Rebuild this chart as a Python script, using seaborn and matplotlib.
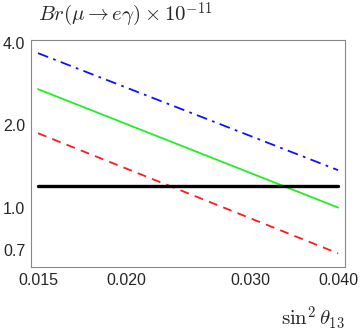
import matplotlib
matplotlib.use('Agg')
import matplotlib.pyplot as plt
import seaborn as sns
import pandas as pd

# Values (log-log straight lines)
sin2_theta13 = [0.015, 0.040]
br_dashdot = [3.67, 1.37]
br_solid = [2.71, 1.00]
br_dashed = [1.87, 0.68]
br_bound = [1.20, 1.20]

x_ticks = [0.015, 0.020, 0.030, 0.040]
x_labels = ['0.015', '0.020', '0.030', '0.040']
y_ticks = [0.7, 1.0, 2.0, 4.0]
y_labels = ['0.7', '1.0', '2.0', '4.0']

sns.set_style('white')
plt.rcParams['mathtext.fontset'] = 'cm'
plt.rcParams['font.family'] = ['Liberation Sans', 'DejaVu Sans']

fig, ax = plt.subplots(figsize=(3.6, 3.33), dpi=100)
fig.subplots_adjust(left=0.086, right=0.958, top=0.88, bottom=0.198)

df = pd.DataFrame({'x': sin2_theta13, 'blue': br_dashdot, 'green': br_solid,
                   'red': br_dashed, 'black': br_bound})

sns.lineplot(data=df, x='x', y='blue', ax=ax, color='#1010ff', lw=1.3,
             linestyle=(0, (6, 3, 1.5, 3)))
sns.lineplot(data=df, x='x', y='green', ax=ax, color='#22ee22', lw=1.3)
sns.lineplot(data=df, x='x', y='red', ax=ax, color='#ff1a1a', lw=1.3,
             linestyle=(0, (5, 3.5)))
sns.lineplot(data=df, x='x', y='black', ax=ax, color='black', lw=2.4)

ax.set_xscale('log')
ax.set_yscale('log')
ax.set_xlim(0.01466, 0.0409)
ax.set_ylim(0.606, 4.1)
ax.set_xticks(x_ticks)
ax.set_xticklabels(x_labels)
ax.set_yticks(y_ticks)
ax.set_yticklabels(y_labels)
ax.minorticks_off()
ax.tick_params(direction='in', length=2.5, width=0.6, color='#999999',
               labelsize=11.5, pad=4)

for s in ax.spines.values():
    s.set_color('#888888')
    s.set_linewidth(0.8)

ax.set_xlabel('')
ax.set_ylabel('')
fig.text(0.105, 0.955, r'$Br(\mu \rightarrow e\gamma)\times 10^{-11}$',
         fontsize=15, va='center', ha='left')
fig.text(0.958, 0.045, r'$\sin^2\theta_{13}$', fontsize=15,
         va='center', ha='right')

fig.savefig('out.png', dpi=100)
